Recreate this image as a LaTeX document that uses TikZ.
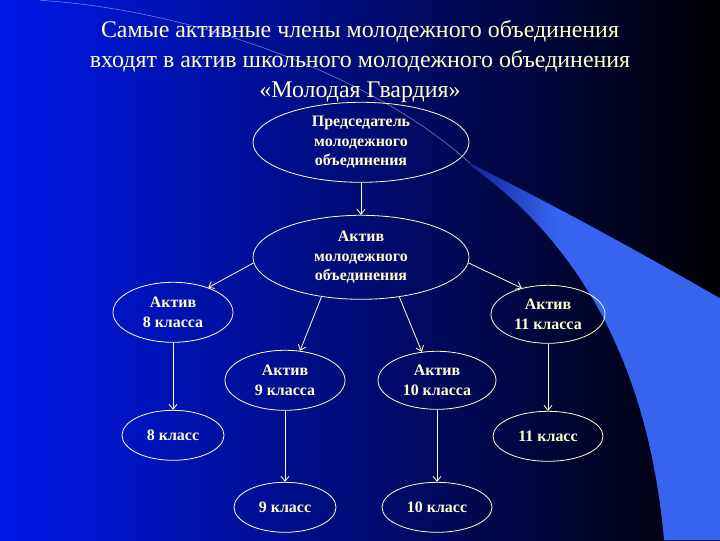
\documentclass[tikz,border=0pt]{standalone}
\usepackage{fontspec}
\setmainfont{Liberation Serif}
\usetikzlibrary{shapes.geometric,arrows.meta}

\definecolor{bgblue}{RGB}{0,24,235}
\definecolor{bandblue}{RGB}{54,100,238}
\definecolor{banddark}{RGB}{16,36,150}
\definecolor{cream}{RGB}{255,255,204}
\pgfdeclarehorizontalshading{bandshade}{100bp}{color(0bp)=(banddark); color(25bp)=(banddark); color(42bp)=(bandblue); color(100bp)=(bandblue)}

\begin{document}
\begin{tikzpicture}[x=1bp, y=-1bp,
    oval/.style={ellipse, draw=cream, line width=0.8bp, inner sep=0pt,
                 text=cream, align=center,
                 font=\fontsize{16}{19.5}\selectfont\bfseries},
    arr/.style={draw=cream, line width=0.8bp,
                -{Straight Barb[length=5bp, width=8bp]}}]
  % background
  \shade[left color=bgblue, right color=black] (0,0) rectangle (720,540);
  \shade[shading=bandshade]
    (470,163) .. controls (560,208) and (640,252) .. (720,298)
     -- (720,540) -- (664,540) .. controls (650,380) and (590,250) .. (470,165) -- cycle;
  \draw[white, opacity=0.45, line width=0.6bp] (40,0) .. controls (200,10) and (380,80) .. (470,163);
  \useasboundingbox (0,0) rectangle (720,540);

  % title
  \node[text=cream, align=center, font=\fontsize{24}{30}\selectfont] (title) at (360,61)
    {Самые активные члены молодежного объединения\\
     входят в актив школьного молодежного объединения\\
     «Молодая Гвардия»};

  % nodes
  \node[oval, minimum width=216bp, minimum height=80bp] (pred) at (361,142)
    {Председатель\\молодежного\\объединения};
  \node[oval, minimum width=216bp, minimum height=84bp] (akt) at (361,257)
    {Актив\\молодежного\\объединения};
  \node[oval, minimum width=120bp, minimum height=60bp] (a8) at (173,312) {Актив\\8 класса};
  \node[oval, minimum width=120bp, minimum height=60bp] (a9) at (285,380) {Актив\\9 класса};
  \node[oval, minimum width=118bp, minimum height=58bp] (a10) at (437,380) {Актив\\10 класса};
  \node[oval, minimum width=114bp, minimum height=58bp] (a11) at (548,314) {Актив\\11 класса};
  \node[oval, minimum width=102bp, minimum height=50bp] (k8) at (173,435) {8 класс};
  \node[oval, minimum width=102bp, minimum height=50bp] (k9) at (285,507) {9 класс};
  \node[oval, minimum width=110bp, minimum height=50bp] (k10) at (437,507) {10 класс};
  \node[oval, minimum width=110bp, minimum height=50bp] (k11) at (548,436) {11 класс};

  % arrows
  \draw[arr] (pred) -- (akt);
  \draw[arr] (akt.183) -- (a8.35);
  \draw[arr] (akt.225) -- (a9.63);
  \draw[arr] (akt.-46) -- (a10.118);
  \draw[arr] (akt.-3) -- (a11.135);
  \draw[arr] (a8) -- (k8);
  \draw[arr] (a9) -- (k9);
  \draw[arr] (a10) -- (k10);
  \draw[arr] (a11) -- (k11);
\end{tikzpicture}
\end{document}
